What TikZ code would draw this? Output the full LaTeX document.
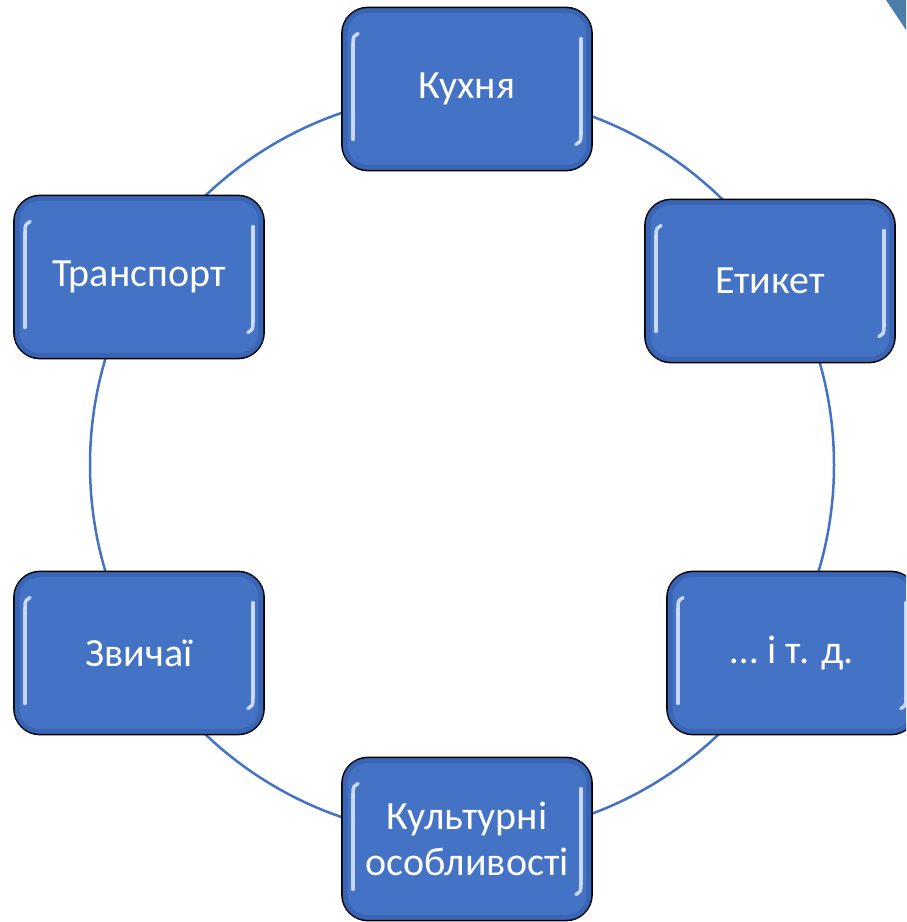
\documentclass[tikz,border=0pt]{standalone}
\usepackage{fontspec}
\setmainfont{Carlito}
\usetikzlibrary{calc}
\definecolor{boxblue}{HTML}{4472C4}
\definecolor{edgeblue}{HTML}{3760AE}
\definecolor{glow}{HTML}{D6E4FF}
\definecolor{cornerblue}{HTML}{4B7FA9}
\tikzset{
  cyclebox/.style={rectangle, rounded corners=26pt, minimum width=250pt, minimum height=163pt,
    inner sep=0pt, fill=boxblue, draw=black, line width=1.8pt, text=white, align=center,
    font=\fontsize{40}{46}\selectfont},
  ring/.style={draw=boxblue, line width=2.5pt},
  shine/.style={draw=glow, line width=3.5pt, line cap=round, opacity=0.9},
  rim/.style={draw=edgeblue, line width=5pt, opacity=0.7, rounded corners=22pt}
}
\newcommand{\gloss}[1]{%
  \draw[rim] ($(#1.north west)+(4,4)$) rectangle ($(#1.south east)+(-4,-4)$);
  \draw[shine] ($(#1.north west)+(12,38)$) -- ($(#1.south west)+(12,-32)$);
  \draw[shine] ($(#1.north west)+(12,38)$) .. controls ($(#1.north west)+(12,30)$) .. ($(#1.north west)+(17,27)$);
  \draw[shine] ($(#1.north east)+(-12,32)$) -- ($(#1.south east)+(-12,-38)$);
  \draw[shine] ($(#1.south east)+(-12,-38)$) .. controls ($(#1.south east)+(-12,-30)$) .. ($(#1.south east)+(-17,-27)$);
}
\begin{document}
\begin{tikzpicture}[x=1pt,y=-1pt]
\useasboundingbox (0,0) rectangle (906,922);
\clip (0,0) rectangle (906,922);
\fill[white] (0,0) rectangle (906,922);
\coordinate (c) at (462,465);
\draw[ring] (c) circle[radius=372];
\node[cyclebox] (kukhnia) at (467,89) {Кухня};
\node[cyclebox] (etyket) at (770,281) {Етикет};
\node[cyclebox] (itd) at (792,653) {… і т. д.};
\node[cyclebox] (kult) at (467,839) {Культурні\\особливості};
\node[cyclebox] (zvychai) at (139,653) {Звичаї};
\node[cyclebox] (transport) at (139,277) {Транспорт};
\gloss{kukhnia}
\gloss{etyket}
\gloss{itd}
\gloss{kult}
\gloss{zvychai}
\gloss{transport}
\fill[cornerblue] (886,0) -- (906,0) -- (906,30) -- cycle;
\end{tikzpicture}
\end{document}
